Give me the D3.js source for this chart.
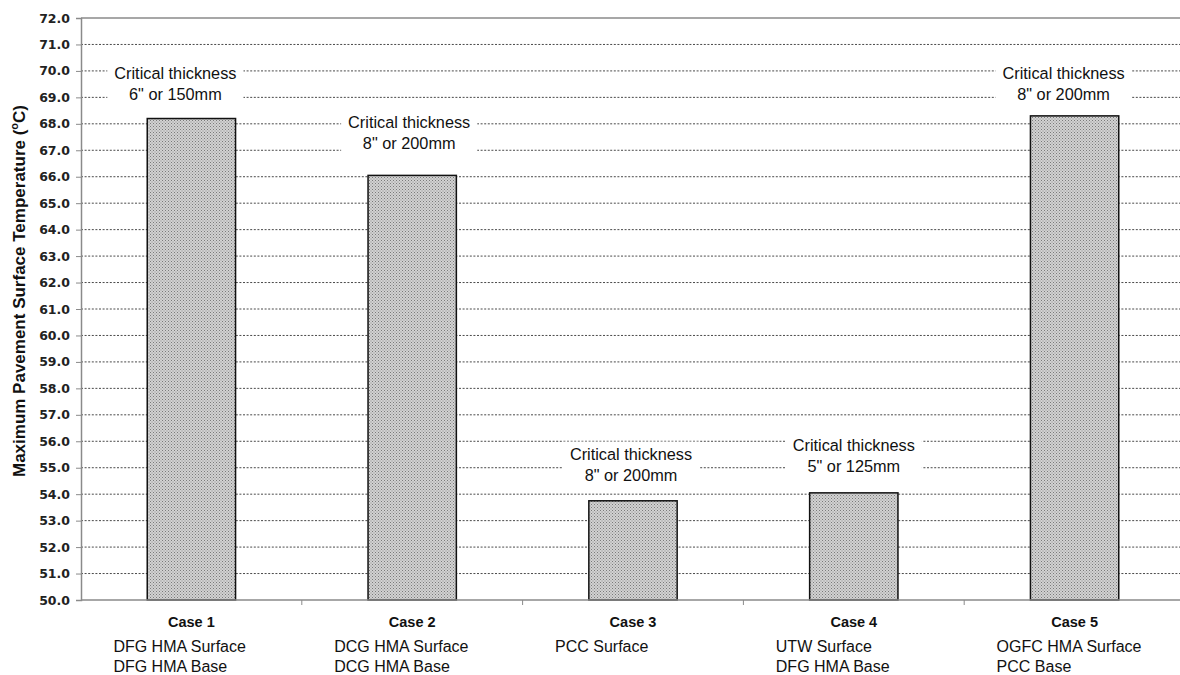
<!DOCTYPE html>
<html>
<head>
<meta charset="utf-8">
<script src="https://cdn.jsdelivr.net/npm/d3@7"></script>
<style>
  html, body { margin: 0; padding: 0; background: #fff; }
  svg { display: block; }
</style>
</head>
<body>
<svg id="chart" width="1180" height="675"></svg>
<script>
// Maximum pavement surface temperature per pavement case
const cases = ["Case 1", "Case 2", "Case 3", "Case 4", "Case 5"];
const caseSurface = ["DFG HMA Surface", "DCG HMA Surface", "PCC Surface", "UTW Surface", "OGFC HMA Surface"];
const caseBase = ["DFG HMA Base", "DCG HMA Base", "", "DFG HMA Base", "PCC Base"];
const maxTemp = [68.2, 66.05, 53.75, 54.05, 68.3];
const criticalThickness = ['6" or 150mm', '8" or 200mm', '8" or 200mm', '5" or 125mm', '8" or 200mm'];
// temperature level at which each note's second line sits
const noteLevel = [69.1, 67.25, 54.7, 55.05, 69.1];
const yTicks = d3.range(50, 72.001, 1);

const svg = d3.select("#chart");
const W = 1180, H = 675;
const plotLeft = 81, plotRight = 1185, plotTop = 18, plotBottom = 600;

const x = d3.scaleBand().domain(cases).range([plotLeft, plotRight]).paddingInner(0.6).paddingOuter(0.3);
const y = d3.scaleLinear().domain([50, 72]).range([plotBottom, plotTop]);

// hatched fill for the bars
const defs = svg.append("defs");
const pat = defs.append("pattern").attr("id", "hatch")
  .attr("patternUnits", "userSpaceOnUse").attr("width", 3).attr("height", 3);
pat.append("rect").attr("width", 3).attr("height", 3).attr("fill", "#d2d2d2");
pat.append("rect").attr("x", 0).attr("y", 0).attr("width", 1).attr("height", 1).attr("fill", "#7a7a7a");
pat.append("rect").attr("x", 1.5).attr("y", 1.5).attr("width", 1).attr("height", 1).attr("fill", "#8a8a8a");

// dotted gridlines
svg.append("g").selectAll("line")
  .data(yTicks.filter(d => d > 50 && d < 72))
  .join("line")
  .attr("x1", plotLeft).attr("x2", W)
  .attr("y1", d => y(d)).attr("y2", d => y(d))
  .attr("stroke", "#4a4a4a").attr("stroke-width", 1)
  .attr("stroke-dasharray", "2,1.6");

// y axis
const yAxis = d3.axisLeft(y).tickValues(yTicks).tickFormat(d3.format(".1f")).tickSize(5).tickPadding(6);
const gy = svg.append("g").attr("transform", `translate(${plotLeft},0)`).call(yAxis);
gy.select(".domain").attr("stroke", "#8a8a8a").attr("stroke-width", 1.5);
gy.selectAll(".tick line").attr("stroke", "#8a8a8a");
gy.selectAll(".tick text")
  .attr("font-family", "DejaVu Sans, sans-serif").attr("font-weight", "bold")
  .attr("font-size", 12.5).attr("fill", "#222");

// plot area top border
svg.append("line").attr("x1", plotLeft).attr("x2", W).attr("y1", plotTop).attr("y2", plotTop)
  .attr("stroke", "#8a8a8a").attr("stroke-width", 1.5);

// bars
svg.append("g").selectAll("rect")
  .data(cases)
  .join("rect")
  .attr("x", d => x(d))
  .attr("width", x.bandwidth())
  .attr("y", (d, i) => y(maxTemp[i]))
  .attr("height", (d, i) => y(50) - y(maxTemp[i]))
  .attr("fill", "url(#hatch)")
  .attr("stroke", "#111").attr("stroke-width", 1.5);

// x axis baseline and category boundary ticks
svg.append("line").attr("x1", plotLeft).attr("x2", W).attr("y1", plotBottom).attr("y2", plotBottom)
  .attr("stroke", "#8a8a8a").attr("stroke-width", 1.5);
const step = x.step();
svg.append("g").selectAll("line")
  .data(cases.slice(1))
  .join("line")
  .attr("x1", d => x(d) + x.bandwidth() / 2 - step / 2)
  .attr("x2", d => x(d) + x.bandwidth() / 2 - step / 2)
  .attr("y1", plotBottom).attr("y2", plotBottom + 5)
  .attr("stroke", "#8a8a8a").attr("stroke-width", 1);

// category labels
const cat = svg.append("g");
cases.forEach((c, i) => {
  const cx = x(c) + x.bandwidth() / 2;
  cat.append("text").attr("x", cx).attr("y", 627)
    .attr("text-anchor", "middle")
    .attr("font-family", "Liberation Sans, Arial, sans-serif")
    .attr("font-weight", "bold").attr("font-size", 14.5).attr("fill", "#111")
    .text(c);
  [caseSurface[i], caseBase[i]].forEach((t, k) => {
    if (!t) return;
    cat.append("text").attr("x", cx - 78).attr("y", 652 + k * 20)
      .attr("font-family", "Liberation Sans, Arial, sans-serif")
      .attr("font-size", 16).attr("fill", "#111")
      .text(t);
  });
});

// critical thickness notes on white boxes
const noteDx = [-16, -3, -2, 0, -11];
const notes = svg.append("g");
cases.forEach((c, i) => {
  const cx = x(c) + x.bandwidth() / 2 + noteDx[i];
  const cy = y(noteLevel[i]);
  const g = notes.append("g");
  const box = g.append("rect").attr("fill", "#fff");
  const t1 = g.append("text").attr("x", cx).attr("y", cy - 15.5)
    .attr("text-anchor", "middle")
    .attr("font-family", "Liberation Sans, Arial, sans-serif")
    .attr("font-size", 16.3).attr("fill", "#111").text("Critical thickness");
  g.append("text").attr("x", cx).attr("y", cy + 5.5)
    .attr("text-anchor", "middle")
    .attr("font-family", "Liberation Sans, Arial, sans-serif")
    .attr("font-size", 16.3).attr("fill", "#111").text(criticalThickness[i]);
  const b1 = t1.node().getBBox();
  box.attr("x", b1.x - 7).attr("width", b1.width + 14)
     .attr("y", cy - 34).attr("height", 46);
});

// y axis title
svg.append("text")
  .attr("transform", `translate(25,${(plotTop + plotBottom) / 2 - 18}) rotate(-90)`)
  .attr("text-anchor", "middle")
  .attr("font-family", "Liberation Sans, Arial, sans-serif")
  .attr("font-weight", "bold").attr("font-size", 17).attr("fill", "#111")
  .call(t => {
    t.append("tspan").text("Maximum Pavement Surface Temperature (");
    t.append("tspan").attr("font-size", 11).attr("dy", -7).text("o");
    t.append("tspan").attr("dy", 7).text("C)");
  });
</script>
</body>
</html>
